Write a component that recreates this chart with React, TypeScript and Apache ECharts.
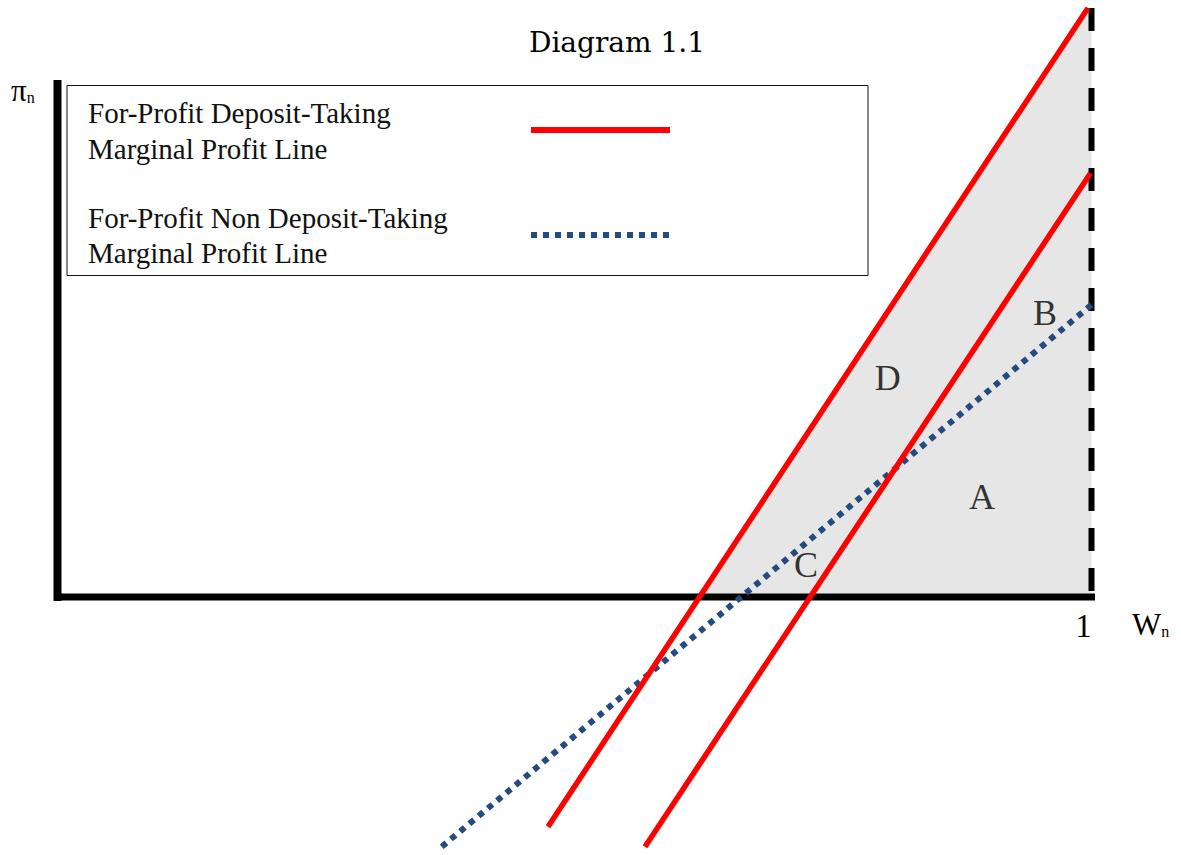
import React, { useEffect, useRef } from "react";
import * as echarts from "echarts";

// Axes range (W_n horizontal, pi_n vertical), 1 = boundary at W_n = 1
const xTicks = [0, 1];
const xTickLabels = ["", "1"];

// Red: For-Profit Deposit-Taking marginal profit lines (two positions)
const redUpperW = [0.4744, 0.9966];
const redUpperPi = [-0.39, 1.0];
const redLowerW = [0.5682, 0.999];
const redLowerPi = [-0.424, 0.7194];

// Blue dotted: For-Profit Non Deposit-Taking marginal profit line
const blueW = [0.3716, 1.0];
const bluePi = [-0.424, 0.496];

// Boundary W_n = 1 (dashed)
const boundaryW = [1, 1];
const boundaryPi = [1.0, 0];

// Axis lines
const yAxisW = [0, 0];
const yAxisPi = [-0.0068, 0.8778];
const xAxisW = [-0.0044, 1.0847];
const xAxisPi = [0, 0];

// Shaded region
const shadeW = [0.6215, 1.0, 1.0];
const shadePi = [0, 0, 1.0];

// Region labels
const regionNames = ["A", "B", "C", "D"];
const regionW = [0.894, 0.955, 0.724, 0.803];
const regionPi = [0.17, 0.482, 0.054, 0.372];

const titleText = "Diagram 1.1";
const legendTexts = [
  "For-Profit Deposit-Taking",
  "Marginal Profit Line",
  "For-Profit Non Deposit-Taking",
  "Marginal Profit Line",
];

const FONT = "'Liberation Serif', 'DejaVu Serif', serif";
const RED = "#ff0000";
const BLUE = "#234b80";

const pairs = (xs: number[], ys: number[]) => xs.map((x, i) => [x, ys[i]]);

export default function App() {
  const ref = useRef<HTMLDivElement>(null);

  useEffect(() => {
    if (!ref.current) return;
    const chart = echarts.init(ref.current, null, { renderer: "svg" });

    const lineSeries = (
      name: string,
      xs: number[],
      ys: number[],
      color: string,
      width: number,
      type: any,
      z: number
    ) => ({
      type: "line",
      name,
      data: pairs(xs, ys),
      clip: false,
      symbol: "none",
      silent: true,
      z,
      lineStyle: { color, width, type, cap: "butt" },
    });

    chart.setOption({
      animation: false,
      backgroundColor: "#ffffff",
      textStyle: { fontFamily: FONT },
      grid: { left: 57.5, top: 8, width: 1034, height: 589, containLabel: false },
      xAxis: {
        type: "value",
        min: xTicks[0],
        max: xTicks[1],
        interval: 1,
        axisLine: { show: false },
        axisTick: { show: false },
        splitLine: { show: false },
        axisLabel: {
          show: true,
          formatter: (v: number) => xTickLabels[xTicks.indexOf(v)] ?? "",
          fontFamily: FONT,
          fontSize: 33,
          color: "#000",
          margin: 12,
          padding: [0, 16, 0, 0],
        },
      },
      yAxis: {
        type: "value",
        min: 0,
        max: 1,
        axisLine: { show: false },
        axisTick: { show: false },
        splitLine: { show: false },
        axisLabel: { show: false },
      },
      series: [
        {
          type: "custom",
          name: "shade",
          silent: true,
          z: 1,
          data: pairs(shadeW, shadePi),
          renderItem: (params: any, api: any) => {
            if (params.dataIndex !== 0) return null;
            const pts = pairs(shadeW, shadePi).map((p) => api.coord(p));
            return {
              type: "polygon",
              shape: { points: pts },
              style: { fill: "#e6e6e6" },
            };
          },
        },
        lineSeries("yaxis", yAxisW, yAxisPi, "#000", 8, "solid", 5),
        lineSeries("xaxis", xAxisW, xAxisPi, "#000", 7, "solid", 5),
        lineSeries("boundary", boundaryW, boundaryPi, "#000", 6, [23, 17], 4),
        lineSeries("blue", blueW, bluePi, BLUE, 6, [6, 6], 6),
        lineSeries("redUpper", redUpperW, redUpperPi, RED, 5.5, "solid", 7),
        lineSeries("redLower", redLowerW, redLowerPi, RED, 5.5, "solid", 7),
        {
          type: "scatter",
          name: "regions",
          silent: true,
          z: 8,
          symbolSize: 0,
          itemStyle: { color: "#000" },
          data: regionNames.map((n, i) => ({ name: n, value: [regionW[i], regionPi[i]] })),
          label: {
            show: true,
            position: "inside",
            formatter: (p: any) => p.name,
            fontFamily: FONT,
            fontSize: 36,
            color: "#000",
            textBorderWidth: 0,
          },
        },
      ],
      graphic: [
        {
          type: "text",
          style: {
            x: 617,
            y: 42,
            align: "center",
            verticalAlign: "middle",
            text: titleText,
            fontFamily: "DejaVu Serif",
            fontSize: 28,
            fill: "#000",
          },
        },
        {
          type: "text",
          style: {
            x: 11,
            y: 90,
            text: "{a|π}{b|n}",
            rich: {
              a: { fontFamily: FONT, fontSize: 31, fill: "#000" },
              b: { fontFamily: FONT, fontSize: 16, fill: "#000", padding: [14, 0, 0, 0] },
            },
            verticalAlign: "middle",
          },
        },
        {
          type: "text",
          style: {
            x: 1132,
            y: 624,
            text: "{a|W}{b|n}",
            rich: {
              a: { fontFamily: FONT, fontSize: 31, fill: "#000" },
              b: { fontFamily: FONT, fontSize: 16, fill: "#000", padding: [14, 0, 0, 0] },
            },
            verticalAlign: "middle",
          },
        },
        {
          type: "rect",
          shape: { x: 67, y: 85.5, width: 801, height: 190 },
          style: { fill: "#fff", stroke: "#111", lineWidth: 1 },
          z: 10,
        },
        ...legendTexts.map((t, i) => ({
          type: "text",
          z: 11,
          style: {
            x: 88,
            y: [113, 149, 218, 253][i],
            text: t,
            fontFamily: FONT,
            fontSize: 29,
            fill: "#111",
            verticalAlign: "middle",
          },
        })),
        {
          type: "line",
          z: 11,
          shape: { x1: 531, y1: 130, x2: 670, y2: 130 },
          style: { stroke: RED, lineWidth: 6 },
        },
        {
          type: "line",
          z: 11,
          shape: { x1: 531, y1: 235, x2: 670, y2: 235 },
          style: { stroke: BLUE, lineWidth: 6, lineDash: [6, 6] },
        },
      ],
    });

    return () => chart.dispose();
  }, []);

  return (
    <div
      ref={ref}
      style={{ position: "fixed", left: 0, top: 0, width: 1181, height: 855, background: "#fff" }}
    />
  );
}
